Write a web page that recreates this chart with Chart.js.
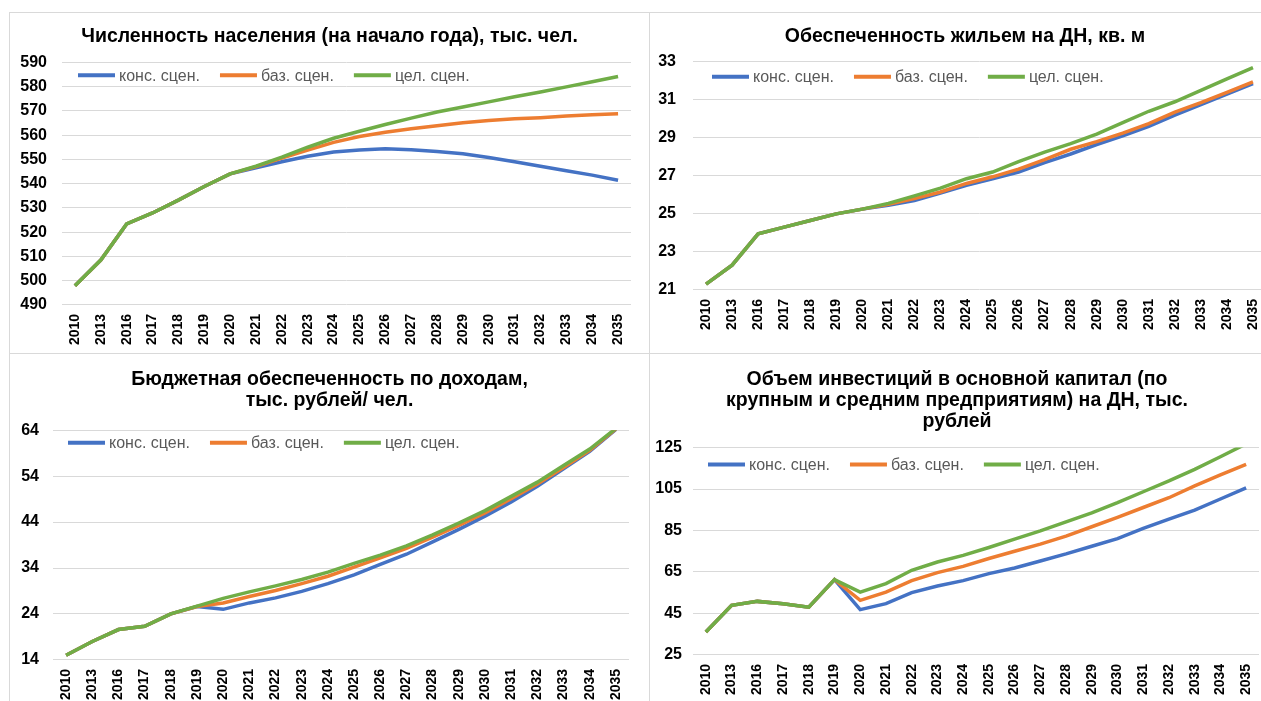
<!DOCTYPE html>
<html>
<head>
<meta charset="utf-8">
<script src="https://cdn.jsdelivr.net/npm/chart.js@4.4.1/dist/chart.umd.min.js"></script>
<style>
  html, body { margin: 0; padding: 0; background: #fff; overflow: hidden; }
  body { width: 1261px; height: 701px; position: relative; }
  .panel { position: absolute; box-sizing: border-box; border: 1px solid #d9d9d9; background: #fff; }
  .panel canvas { display: block; }
</style>
</head>
<body>
<div class="panel" style="left:9px; top:12px; width:641px; height:342px;"><canvas id="population"></canvas></div>
<div class="panel" style="left:649px; top:12px; width:632px; height:342px;"><canvas id="housing"></canvas></div>
<div class="panel" style="left:9px; top:353px; width:641px; height:362px;"><canvas id="budget"></canvas></div>
<div class="panel" style="left:649px; top:353px; width:632px; height:362px;"><canvas id="investment"></canvas></div>
<script>
// годы
const years = ["2010", "2013", "2016", "2017", "2018", "2019", "2020", "2021", "2022", "2023", "2024", "2025", "2026", "2027", "2028", "2029", "2030", "2031", "2032", "2033", "2034", "2035"];
const seriesNames = ["конс. сцен.", "баз. сцен.", "цел. сцен."];

// численность населения, тыс. чел.
const popCons = [497.9, 508.5, 523.4, 527.9, 533.2, 538.8, 544.0, 546.5, 549.0, 551.3, 553.0, 553.9, 554.4, 554.0, 553.2, 552.3, 550.8, 549.0, 547.2, 545.3, 543.5, 541.4];
const popBase = [497.9, 508.5, 523.4, 527.9, 533.2, 538.8, 544.0, 547.0, 550.5, 553.8, 557.0, 559.4, 561.2, 562.6, 563.9, 565.1, 566.0, 566.7, 567.2, 567.9, 568.4, 568.8];
const popTarget = [497.9, 508.5, 523.4, 527.9, 533.2, 538.8, 544.0, 547.2, 550.9, 555.0, 558.7, 561.6, 564.4, 567.0, 569.5, 571.6, 573.7, 575.8, 577.8, 579.9, 582.0, 584.2];

// обеспеченность жильем, кв. м
const houseCons = [21.3, 22.3, 23.95, 24.3, 24.65, 25.0, 25.25, 25.45, 25.7, 26.1, 26.5, 26.85, 27.2, 27.7, 28.15, 28.65, 29.1, 29.6, 30.2, 30.75, 31.3, 31.85];
const houseBase = [21.3, 22.3, 23.95, 24.3, 24.65, 25.0, 25.25, 25.5, 25.8, 26.15, 26.6, 26.95, 27.35, 27.85, 28.4, 28.8, 29.25, 29.75, 30.35, 30.85, 31.4, 31.95];
const houseTarget = [21.3, 22.3, 23.95, 24.3, 24.65, 25.0, 25.25, 25.55, 25.95, 26.35, 26.85, 27.2, 27.75, 28.25, 28.7, 29.2, 29.8, 30.4, 30.9, 31.5, 32.1, 32.7];

// бюджетная обеспеченность, тыс. руб./чел.
const budgetCons = [15.0, 18.0, 20.6, 21.3, 24.0, 25.6, 25.0, 26.4, 27.5, 28.9, 30.6, 32.5, 34.8, 37.0, 39.7, 42.4, 45.3, 48.4, 51.8, 55.6, 59.4, 64.2];
const budgetBase = [15.0, 18.0, 20.6, 21.3, 24.0, 25.6, 26.4, 27.8, 29.1, 30.6, 32.2, 34.2, 36.2, 38.3, 40.7, 43.3, 46.0, 49.1, 52.3, 55.9, 59.6, 64.3];
const budgetTarget = [15.0, 18.0, 20.6, 21.3, 24.0, 25.7, 27.4, 28.8, 30.1, 31.5, 33.1, 35.0, 36.8, 38.8, 41.2, 43.8, 46.5, 49.6, 52.7, 56.3, 59.9, 64.4];

// инвестиции в основной капитал на ДН, тыс. руб.
const investCons = [36.0, 48.9, 50.8, 49.7, 48.0, 61.3, 46.8, 49.7, 55.0, 58.2, 60.8, 64.2, 66.9, 70.3, 73.7, 77.4, 81.1, 86.0, 90.5, 94.8, 100.2, 105.6];
const investBase = [36.0, 48.9, 50.8, 49.7, 48.0, 61.3, 51.3, 55.3, 60.8, 64.7, 67.7, 71.5, 75.0, 78.4, 82.3, 86.8, 91.3, 96.1, 100.8, 106.5, 111.8, 116.9];
const investTarget = [36.0, 48.9, 50.8, 49.7, 48.0, 61.3, 55.3, 59.4, 65.8, 69.8, 73.0, 76.8, 80.8, 84.8, 89.2, 93.5, 98.4, 103.7, 108.9, 114.5, 120.6, 126.8];

const colors = ["#4472C4", "#ED7D31", "#70AD47"];
const fontFamily = "'Liberation Sans', Arial, sans-serif";

// легенда внутри области графика, как в Excel
const insideLegend = {
  id: "insideLegend",
  afterDraw(chart, args, opts) {
    const { ctx, chartArea } = chart;
    let x = chartArea.left + opts.dx;
    const y = chartArea.top + opts.dy;
    ctx.save();
    ctx.font = "16px " + fontFamily;
    ctx.textBaseline = "middle";
    chart.data.datasets.forEach((ds) => {
      ctx.strokeStyle = ds.borderColor;
      ctx.lineWidth = 4;
      ctx.beginPath();
      ctx.moveTo(x, y);
      ctx.lineTo(x + 37, y);
      ctx.stroke();
      ctx.fillStyle = "#595959";
      ctx.fillText(ds.label, x + 41, y + 1);
      x += 41 + ctx.measureText(ds.label).width + 20;
    });
    ctx.restore();
  },
};

function makeChart(canvasId, titleLines, values, yMin, yMax, yStep, opt) {
  const ctx = document.getElementById(canvasId);
  return new Chart(ctx, {
    type: "line",
    data: {
      labels: years,
      datasets: values.map((arr, i) => ({
        label: seriesNames[i],
        data: arr,
        borderColor: colors[i],
        backgroundColor: colors[i],
        borderWidth: 3.5,
        pointRadius: 0,
        tension: 0,
        fill: false,
        order: 3 - i, // зелёная линия сверху
      })),
    },
    plugins: [insideLegend],
    options: {
      responsive: true,
      maintainAspectRatio: false,
      animation: false,
      layout: { padding: opt.pad },
      plugins: {
        title: {
          display: true,
          text: titleLines,
          color: "#000",
          font: { family: fontFamily, size: 19.5, weight: "bold", lineHeight: 1.07 },
          padding: opt.titlePad,
        },
        legend: { display: false },
        insideLegend: opt.legend,
        tooltip: { enabled: false },
      },
      scales: {
        x: {
          offset: true,
          grid: { display: false },
          border: { display: false },
          ticks: {
            autoSkip: false,
            minRotation: 90,
            maxRotation: 90,
            padding: 1,
            color: "#000",
            font: { family: fontFamily, size: 14, weight: "bold" },
          },
        },
        y: {
          min: yMin,
          max: yMax,
          afterFit: (scale) => { scale.width = opt.yWidth; },
          grid: { color: "#d9d9d9", lineWidth: 1, drawTicks: false },
          border: { display: false },
          ticks: {
            stepSize: yStep,
            padding: opt.yPad,
            color: "#000",
            font: { family: fontFamily, size: 16, weight: "bold" },
          },
        },
        // пустая правая ось: отступ справа, не сдвигающий заголовок
        gap: {
          position: "right",
          grid: { display: false },
          border: { display: false },
          ticks: { display: false },
          afterFit: (scale) => { scale.width = opt.rightGap; },
        },
      },
    },
  });
}

makeChart("population", "Численность населения (на начало года), тыс. чел.",
  [popCons, popBase, popTarget], 490, 590, 10, {
    pad: { left: 0, right: 0, top: 0, bottom: 7 },
    rightGap: 18,
    titlePad: { top: 13.5, bottom: 15 },
    yWidth: 52,
    yPad: 15,
    legend: { dx: 16, dy: 13 },
  });

makeChart("housing", "Обеспеченность жильем на ДН, кв. м",
  [houseCons, houseBase, houseTarget], 21, 33, 2, {
    pad: { left: 0, right: 0, top: 0, bottom: 22 },
    rightGap: 14,
    titlePad: { top: 13.5, bottom: 14.5 },
    yWidth: 43,
    yPad: 17,
    legend: { dx: 19, dy: 15 },
  });

makeChart("budget", ["Бюджетная обеспеченность по доходам,", "тыс. рублей/ чел."],
  [budgetCons, budgetBase, budgetTarget], 14, 64, 10, {
    pad: { left: 0, right: 0, top: 0, bottom: 13 },
    rightGap: 20,
    titlePad: { top: 15.5, bottom: 19 },
    yWidth: 43,
    yPad: 14,
    legend: { dx: 15, dy: 12.5 },
  });

makeChart("investment", ["Объем инвестиций в основной капитал (по", "крупным и средним предприятиям) на ДН, тыс.", "рублей"],
  [investCons, investBase, investTarget], 25, 125, 20, {
    pad: { left: 0, right: 16, top: 0, bottom: 18 },
    rightGap: 5,
    titlePad: { top: 15.5, bottom: 15.5 },
    yWidth: 43,
    yPad: 11,
    legend: { dx: 15, dy: 17 },
  });
</script>
</body>
</html>
